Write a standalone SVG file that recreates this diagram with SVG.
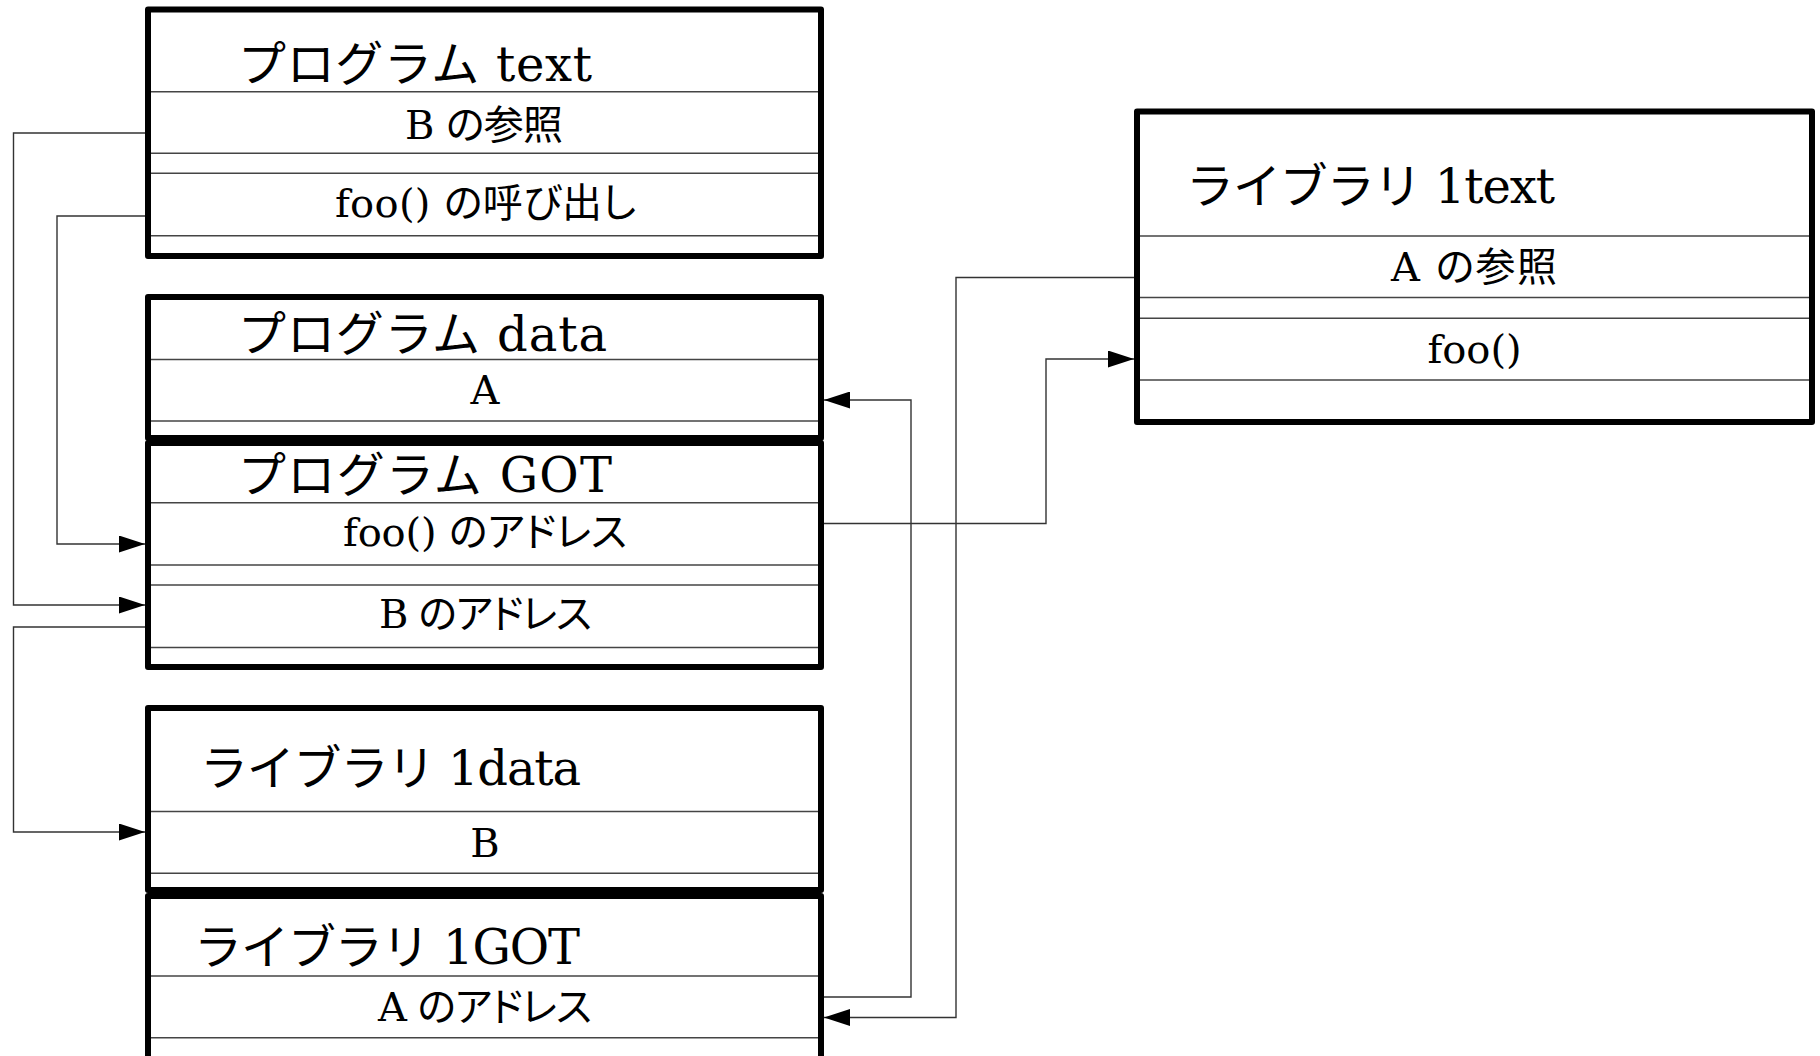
<svg xmlns="http://www.w3.org/2000/svg" width="1820" height="1056" viewBox="0 0 1820 1056">
<style>
.box{fill:#fff;stroke:#000;stroke-width:6;stroke-linejoin:round}
.sep{stroke:#444;stroke-width:1.4}
.title{font-family:"DejaVu Serif","Noto Sans CJK JP",serif;font-size:48px;fill:#000}
.row{font-family:"DejaVu Serif","Noto Sans CJK JP",serif;font-size:40px;fill:#000;text-anchor:middle;font-feature-settings:"palt"}
.conn{fill:none;stroke:#333;stroke-width:1.4}
</style>
<defs>
<marker id="arr" markerUnits="userSpaceOnUse" markerWidth="26" markerHeight="17" refX="26" refY="8.5" orient="auto">
<path d="M0,0 L26,8.5 L0,17 z" fill="#000"/>
</marker>
</defs>
<rect width="1820" height="1056" fill="#fff"/>

<g id="prog-text">
<rect class="box" x="148" y="9.5" width="673" height="246.5"/>
<line class="sep" x1="151" y1="91.7" x2="818" y2="91.7"/>
<line class="sep" x1="151" y1="153.3" x2="818" y2="153.3"/>
<line class="sep" x1="151" y1="173.3" x2="818" y2="173.3"/>
<line class="sep" x1="151" y1="235.7" x2="818" y2="235.7"/>
<text class="title" x="238" y="81" textLength="354" lengthAdjust="spacing">プログラム text</text>
<text class="row" x="484" y="139" textLength="158" lengthAdjust="spacing">B の参照</text>
<text class="row" x="485.5" y="217" textLength="301" lengthAdjust="spacing">foo() の呼び出し</text>
</g>

<g id="prog-data">
<rect class="box" x="148" y="297" width="673" height="141"/>
<line class="sep" x1="151" y1="359.5" x2="818" y2="359.5"/>
<line class="sep" x1="151" y1="421" x2="818" y2="421"/>
<text class="title" x="238" y="351" textLength="369" lengthAdjust="spacing">プログラム data</text>
<text class="row" x="485" y="404">A</text>
</g>

<g id="prog-got">
<rect class="box" x="148" y="443" width="673" height="224"/>
<line class="sep" x1="151" y1="502.7" x2="818" y2="502.7"/>
<line class="sep" x1="151" y1="565" x2="818" y2="565"/>
<line class="sep" x1="151" y1="585" x2="818" y2="585"/>
<line class="sep" x1="151" y1="647.5" x2="818" y2="647.5"/>
<text class="title" x="238" y="492" textLength="374" lengthAdjust="spacing">プログラム GOT</text>
<text class="row" x="485" y="546" textLength="284" lengthAdjust="spacing">foo() のアドレス</text>
<text class="row" x="485.5" y="628" textLength="213" lengthAdjust="spacing">B のアドレス</text>
</g>

<g id="lib-data">
<rect class="box" x="148" y="708" width="673" height="182"/>
<line class="sep" x1="151" y1="811.5" x2="818" y2="811.5"/>
<line class="sep" x1="151" y1="873.3" x2="818" y2="873.3"/>
<text class="title" x="200" y="785" textLength="381" lengthAdjust="spacing">ライブラリ 1data</text>
<text class="row" x="485" y="857">B</text>
</g>

<g id="lib-got">
<rect class="box" x="148" y="896" width="673" height="170"/>
<line class="sep" x1="151" y1="976" x2="818" y2="976"/>
<line class="sep" x1="151" y1="1037.7" x2="818" y2="1037.7"/>
<text class="title" x="194" y="964" textLength="386" lengthAdjust="spacing">ライブラリ 1GOT</text>
<text class="row" x="485" y="1021" textLength="214" lengthAdjust="spacing">A のアドレス</text>
</g>

<g id="lib-text">
<rect class="box" x="1137" y="111.5" width="675" height="310.5"/>
<line class="sep" x1="1140" y1="236" x2="1809" y2="236"/>
<line class="sep" x1="1140" y1="297.5" x2="1809" y2="297.5"/>
<line class="sep" x1="1140" y1="318.3" x2="1809" y2="318.3"/>
<line class="sep" x1="1140" y1="380" x2="1809" y2="380"/>
<text class="title" x="1186" y="203" textLength="369" lengthAdjust="spacing">ライブラリ 1text</text>
<text class="row" x="1474" y="281" textLength="166" lengthAdjust="spacing">A の参照</text>
<text class="row" x="1474.5" y="363">foo()</text>
</g>

<g id="connectors">
<path class="conn" d="M145,133 H13.5 V605 H145" marker-end="url(#arr)"/>
<path class="conn" d="M145,216 H57 V544 H145" marker-end="url(#arr)"/>
<path class="conn" d="M145,627 H13.5 V832 H145" marker-end="url(#arr)"/>
<path class="conn" d="M824,523.5 H1046 V359 H1134" marker-end="url(#arr)"/>
<path class="conn" d="M1134,277.5 H956 V1017.5 H824" marker-end="url(#arr)"/>
<path class="conn" d="M824,997 H911 V400 H824" marker-end="url(#arr)"/>
</g>
</svg>
